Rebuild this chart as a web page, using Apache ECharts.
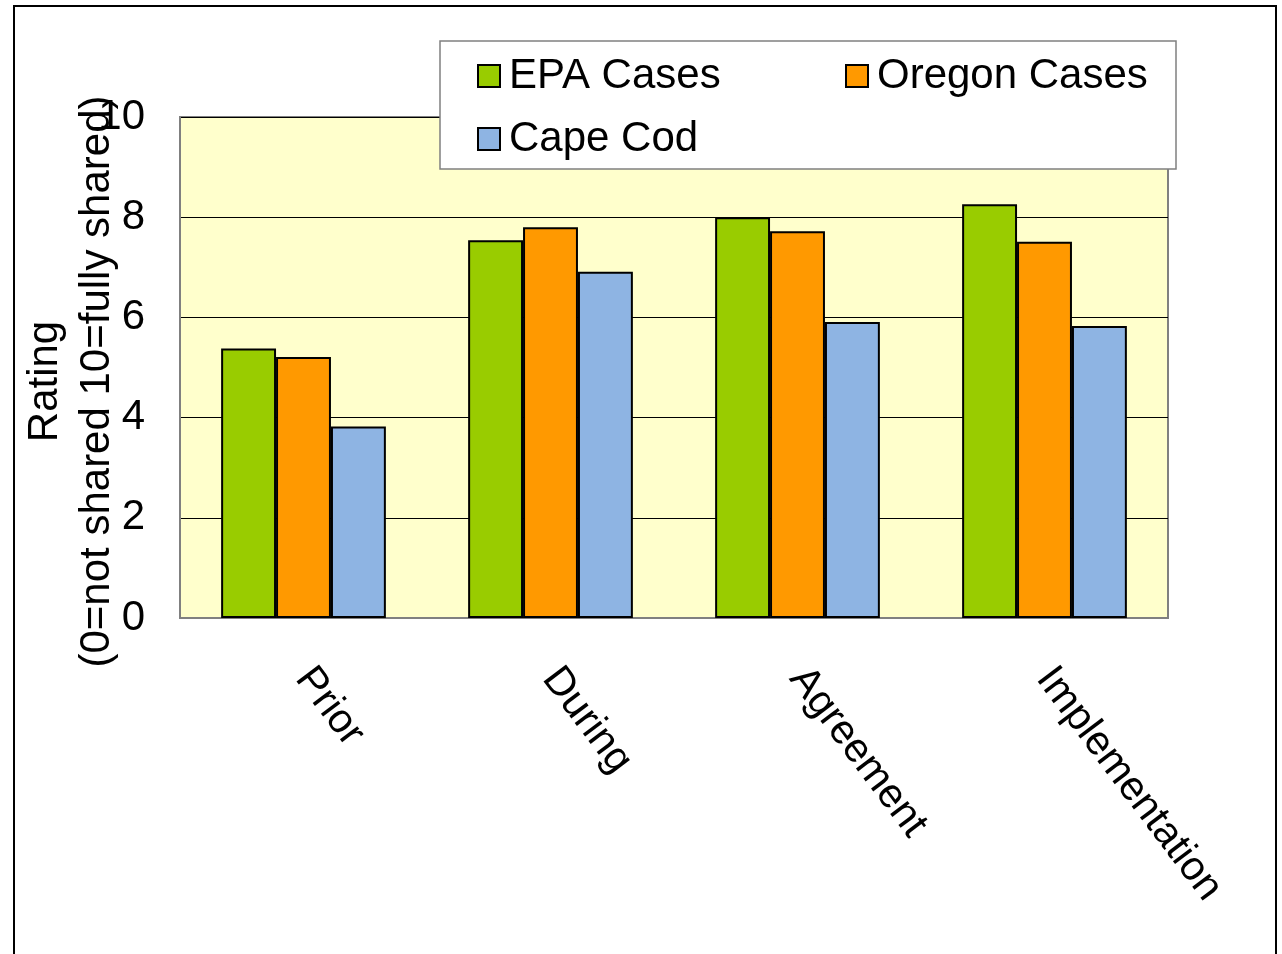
<!DOCTYPE html>
<html>
<head>
<meta charset="utf-8">
<script src="https://cdn.jsdelivr.net/npm/echarts@6/dist/echarts.min.js"></script>
<style>
html,body{margin:0;padding:0;background:#fff;}
#chart{width:1282px;height:954px;}
</style>
</head>
<body>
<div id="chart"></div>
<script>
const categories = ['Prior', 'During', 'Agreement', 'Implementation'];
const seriesNames = ['EPA Cases', 'Oregon Cases', 'Cape Cod'];
const epaCases = [5.38, 7.54, 8.00, 8.26];
const oregonCases = [5.21, 7.80, 7.72, 7.51];
const capeCod = [3.82, 6.91, 5.91, 5.83];
const yMin = 0, yMax = 10, yInterval = 2;
const yAxisTitle = 'Rating\n(0=not shared 10=fully shared)';

const colors = ['#99CC00', '#FF9900', '#8EB4E3'];
const FONT = "'Liberation Sans', Arial, sans-serif";

const chart = echarts.init(document.getElementById('chart'), null, {renderer: 'canvas'});

function legendAt(name, left, top) {
  return {
    data: [name], left: left, top: top, padding: 0, orient: 'horizontal',
    itemWidth: 22, itemHeight: 22, itemGap: 0, icon: 'rect', selectedMode: false,
    textStyle: {fontFamily: FONT, fontSize: 42, color: '#000', lineHeight: 42, padding: [0, 0, 0, 4]},
    z: 10
  };
}

const option = {
  animation: false,
  backgroundColor: '#fff',
  textStyle: {fontFamily: FONT},
  graphic: [
    {type: 'rect', shape: {x: 14, y: 6, width: 1262, height: 960}, style: {fill: '#fff', stroke: '#000', lineWidth: 2}, z: -10, silent: true},
    {type: 'rect', shape: {x: 440, y: 41, width: 736, height: 128}, style: {fill: '#fff', stroke: '#808080', lineWidth: 1.5}, z: 5, silent: true}
  ],
  legend: [
    legendAt(seriesNames[0], 477, 55),
    legendAt(seriesNames[1], 845, 55),
    legendAt(seriesNames[2], 477, 118)
  ],
  grid: {
    left: 180, right: 114, top: 117, bottom: 336,
    containLabel: false, outerBoundsMode: 'none',
    show: true, backgroundColor: '#FFFFCC', borderColor: '#808080', borderWidth: 2
  },
  xAxis: {
    type: 'category', data: categories,
    axisLine: {show: true, lineStyle: {color: '#808080', width: 2}},
    axisTick: {show: false},
    axisLabel: {rotate: -53, margin: 54, fontSize: 41, color: '#000', fontFamily: FONT, interval: 0}
  },
  yAxis: {
    type: 'value', min: yMin, max: yMax, interval: yInterval,
    name: yAxisTitle, nameLocation: 'middle', nameGap: 57, nameMoveOverlap: false,
    nameTextStyle: {fontSize: 42, color: '#000', fontFamily: FONT, lineHeight: 52, padding: [0, 28, 0, 0]},
    axisLine: {show: true, lineStyle: {color: '#808080', width: 2}},
    axisTick: {show: false},
    axisLabel: {fontSize: 42, color: '#000', margin: 35, fontFamily: FONT},
    splitLine: {show: true, lineStyle: {color: '#000', width: 1}}
  },
  series: [
    {name: seriesNames[0], type: 'bar', data: epaCases, barGap: '0%', barCategoryGap: '33.3%',
     itemStyle: {color: colors[0], borderColor: '#000', borderWidth: 2}},
    {name: seriesNames[1], type: 'bar', data: oregonCases, barGap: '0%', barCategoryGap: '33.3%',
     itemStyle: {color: colors[1], borderColor: '#000', borderWidth: 2}},
    {name: seriesNames[2], type: 'bar', data: capeCod, barGap: '0%', barCategoryGap: '33.3%',
     itemStyle: {color: colors[2], borderColor: '#000', borderWidth: 2}}
  ]
};
chart.setOption(option);
</script>
</body>
</html>
